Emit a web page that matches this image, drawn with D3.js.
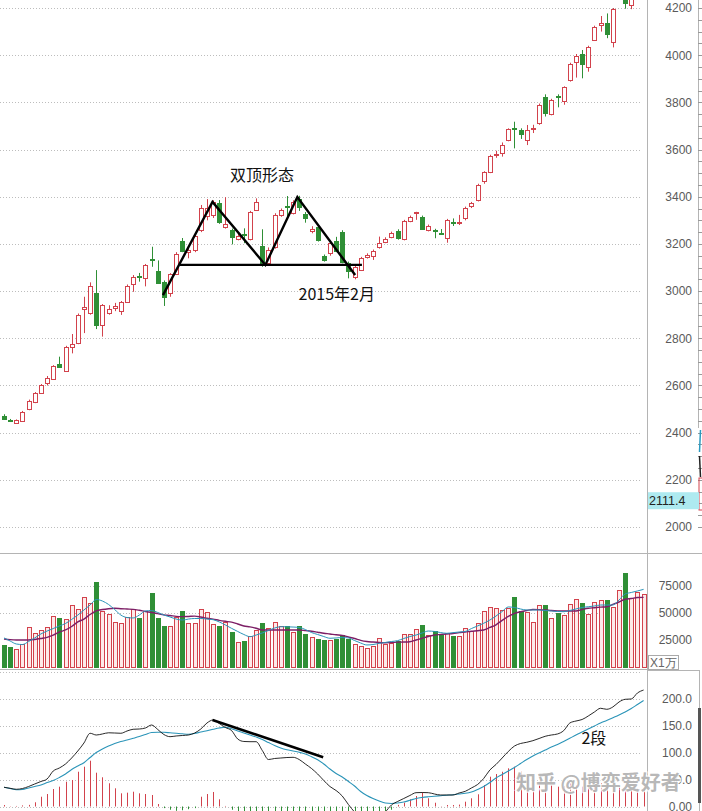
<!DOCTYPE html>
<html><head><meta charset="utf-8">
<script src="https://cdn.jsdelivr.net/npm/d3@7"></script>
<style>body{margin:0;background:#fff;overflow:hidden}svg{display:block}</style>
</head><body>
<svg id="c" width="702" height="811"></svg>
<script>
// ---------------- data ----------------
const opens = [2472,2453,2441,2449,2500,2530,2569,2610,2627,2691,
2662,2764,2780,2925,2907,2993,2856,2908,2928,2917,
2954,3030,3066,3055,3134,3085,3039,2992,3072,3214,
3166,3174,3259,3318,3323,3375,3273,3259,3222,3240,
3222,3344,3191,3119,3188,3323,3360,3331,3390,3327,
3256,3273,3149,3161,3214,3250,3118,3061,3089,3143,
3149,3187,3208,3229,3256,3221,3297,3328,3316,3259,
3261,3247,3224,3292,3287,3309,3358,3386,3464,3506,
3575,3587,3640,3692,3683,3640,3686,3711,3821,3751,
3826,3803,3895,3972,4004,3949,4067,4128,4135,4053,
4260,4300,4213,4300,4410];
const highs = [2478,2458,2456,2492,2540,2572,2606,2640,2686,2722,
2768,2818,2905,2976,3037,3089,2945,2940,2950,2958,
3028,3068,3077,3115,3188,3130,3045,3076,3165,3225,
3188,3240,3365,3390,3385,3386,3398,3265,3245,3266,
3340,3393,3262,3185,3330,3350,3403,3385,3404,3335,
3275,3280,3155,3210,3230,3258,3125,3110,3145,3160,
3176,3231,3228,3252,3262,3302,3320,3336,3320,3282,
3264,3263,3306,3308,3323,3358,3378,3455,3508,3578,
3595,3630,3690,3718,3690,3704,3705,3795,3834,3815,
3834,3868,3968,4005,4022,4040,4125,4166,4177,4200,
4290,4310,4300,4400,4445];
const lows = [2455,2445,2438,2445,2495,2525,2565,2600,2624,2674,
2660,2736,2775,2822,2900,2839,2807,2900,2915,2899,
2950,2997,3040,3020,3103,3034,2937,2976,3068,3165,
3139,3165,3250,3300,3310,3285,3265,3198,3215,3203,
3215,3340,3103,3110,3180,3315,3315,3325,3340,3290,
3245,3210,3125,3150,3165,3118,3054,3050,3085,3138,
3132,3180,3203,3224,3218,3215,3292,3302,3260,3253,
3224,3238,3205,3276,3280,3300,3352,3380,3455,3500,
3565,3570,3635,3605,3645,3619,3670,3705,3740,3745,
3779,3790,3888,3905,3902,3930,4060,4100,4072,4033,
4240,4197,4195,4290,4360];
const closes = [2458,2450,2453,2487,2535,2568,2602,2632,2682,2678,
2763,2777,2899,2934,3022,2856,2941,2924,2937,2954,
3022,3060,3062,3111,3130,3036,2976,3072,3157,3171,
3174,3235,3352,3352,3378,3294,3284,3230,3234,3236,
3335,3379,3119,3174,3323,3344,3356,3379,3356,3310,
3264,3217,3132,3204,3171,3124,3082,3103,3140,3153,
3171,3204,3221,3246,3228,3297,3314,3334,3264,3277,
3257,3243,3301,3288,3292,3351,3372,3450,3503,3574,
3580,3619,3686,3688,3666,3683,3692,3789,3754,3810,
3822,3864,3963,3997,3961,4033,4121,4135,4089,4194,
4287,4220,4293,4398,4414];
const volumes = [20400,18800,16700,21000,36800,31200,34300,36800,47200,45400,
44200,57400,53400,64500,59500,79000,51900,49100,41900,41000,
46600,54000,45100,52100,68800,45100,38000,38000,46600,51900,
41000,41000,53400,51200,39800,38000,41900,32700,23400,24400,
28700,34300,41000,35800,41900,38000,38000,32700,38000,30600,
27500,25700,25000,25000,25700,29600,25700,21300,19400,17600,
19400,26600,21300,21900,24400,30300,30300,34900,38900,29400,
33300,29400,31200,28700,28700,35800,33300,40500,52300,55300,
54400,52800,54400,64800,51900,50900,41900,57400,57400,45100,
49700,48200,58300,62700,59500,49100,59900,62000,62000,55300,
71300,87300,64200,69400,67600];
const volMA5 = [26900,24100,21300,20800,23600,26900,30600,33300,35600,38000,
40300,44000,48100,52800,57400,62500,61100,57900,53200,48100,
45800,45400,48100,51900,52300,50500,48100,46300,44400,43500,
44400,44900,44900,44400,43800,41700,38900,35800,32900,30100,
28100,29600,31500,33800,36100,37300,37200,37000,36600,34700,
31900,30100,28200,26600,26900,27300,26900,24500,22200,20400,
20800,21900,22700,23600,24400,26400,28200,29600,31500,33300,
32900,31900,31200,31800,32400,32900,35600,38000,40500,43500,
47200,51400,55600,55100,53700,52800,52800,52800,52300,51900,
51400,51200,52300,53700,55100,55800,56500,57400,57400,57400,
62000,67600,69000,70400,71900];
const volMA10 = [25900,25300,25000,25000,25000,25500,26400,27500,29600,32400,
34300,37500,41700,44400,48600,51900,53200,54000,54400,54000,
53700,53400,52500,51400,50500,49400,48300,47700,46900,46600,
46800,47100,46300,45100,44300,43200,42300,41500,39800,38000,
37200,35900,34300,34300,34300,34300,34300,34300,34300,33700,
33100,32200,31300,30600,29800,29200,27800,26400,24700,23600,
23100,22700,22500,22700,23000,23100,23400,25000,26600,28200,
29600,30100,30600,31000,31800,32400,33100,33600,34300,36600,
39100,43100,46800,49700,51200,52300,53200,53100,52800,52300,
52000,51900,51900,51900,53200,54400,54900,55400,55800,57900,
60200,62700,63400,64300,64500];
const difs = [35.6,33.7,31.9,33.3,37,41.7,46.3,50.9,65.7,71.3,
78.7,89.8,102.8,117.6,135.6,132.4,134.3,136.5,136.1,135.6,
139.8,143,143.5,145.4,150.9,142.6,133.3,129.3,130.6,131.5,
132.4,136.1,143.5,154.6,160.2,153.7,146.3,140.7,125,120.4,
120,120,103.7,87,88.9,89.8,90.7,91.1,87,78.7,
70.4,60.2,48.1,37,29.6,19.4,3.7,-10.2,-21.3,-28.7,
-28.7,-21.3,-10.2,2.8,9.3,14.8,20.4,25.6,25.9,25.6,
23.1,21.3,21.3,21.3,25,28.1,34.3,40.7,51.9,67.6,
77.8,89.8,101.9,112,116.7,118.9,121.9,125.9,130,132.4,
134.3,140.4,154.6,158.3,161.1,167.6,175,181.9,180,184.3,
193.5,198.5,199.1,210.2,215.7];
const deas = [35.6,33.3,30.9,31.5,34.3,37,39.8,44.4,48.1,53.7,
60.2,68.5,75,81.1,90.7,100,106.5,112,116.7,120.4,
123.1,126.3,129.6,133.3,136.9,137.4,137.4,136.5,135.6,134.6,
133.9,135.2,138,140.4,143,145.4,146.7,143.9,139.8,136.1,
132.4,128.7,124.1,118.5,113,108.3,105,102.8,100.4,97.2,
92.2,86.7,78.7,69.4,61.1,54.6,46.3,37.9,27.8,20.4,
14.8,10.2,6.5,5.6,6.5,8.3,11.5,14.8,16.7,18,
19.1,20,20.9,21.7,23.1,24.4,26.9,31.5,37,44.4,
52.8,59.3,65.7,72.2,79.6,87,93.5,99.1,104.6,110.2,
114.8,120.4,126.3,132.4,138,143.5,149.1,154.6,159.3,164.3,
169.4,175,181.5,188.9,196.3];
const macdBars = [2.8,0.5,1,2,3,7.8,18.1,23.1,32.4,36.7,
45.9,49.1,64.4,73.7,84.8,62.6,54.1,43,33.7,24.4,
25.6,27.4,24.4,23.1,21.3,4.6,-3,-6,-8,-7,
-5,-3,18.1,23.1,26.9,13.3,1,-6,-30,-31,
-25,-17,-41,-63,-48,-37,-29,-23,-27,-37,
-44,-53,-61,-65,-63,-70,-90,-92,-96,-94,
-85,-62,-33,-6,3,7,13.3,19.4,25.6,15.2,
7,0.5,2.8,2.8,3.5,8.9,15.2,22.6,39.8,55.2,
60.2,64.4,70.7,73.7,64.4,56.5,49.1,45.9,43,39.8,
36.7,38,43,39.8,36.7,39.8,39.8,43,39.8,38,
38,29.6,30.9,33,33];

const priceTicks = [2000,2200,2400,2600,2800,3000,3200,3400,3600,3800,4000,4200];
const volTicks = [25000,50000,75000];
const volGrid = [50000,75000];
const macdTicks = [0,50,100,150,200];
const macdGrid = [0,50,100,150,200,250];
const currentPrice = "2111.4";
const volUnit = "X1万";
// annotations in data space: [barIndex, price]
const doubleTop = [[25.85,2983],[33.9,3378],[42.5,3111],[47.7,3399],[57.1,3068]];
const neckline = [[28.6,3111],[58.2,3111]];
const macdTrend = [[33.9,160.2],[51.9,91.1]];
const labels = [
  {text:"双顶形态", i:36.75, p:3467},
  {text:"2015年2月", i:47.9, p:2962},
];
const macdLabel = {text:"2段", i:93.9, v:115};
const watermark = "知乎 @博弈爱好者";

// ---------------- layout ----------------
const svg = d3.select("#c");
const W = 702, AX = 647.5;
const RED = "#d2424c", GREEN = "#2f8f36", GRID = "#bdbdbd", AXC = "#b4b4b4";
const n = closes.length;
const x = d3.scaleLinear().domain([0, n-1]).range([4, 643.6]);
const yP = d3.scaleLinear().domain([2000, 4200]).range([527, 8]);
const yV = d3.scaleLinear().domain([0, 75000]).range([667, 586]);
const yM = d3.scaleLinear().domain([0, 200]).range([806.5, 698.5]);

const defs = svg.append("defs");
function clip(id, x0, y0, w, h){ defs.append("clipPath").attr("id", id).append("rect").attr("x",x0).attr("y",y0).attr("width",w).attr("height",h); }
clip("cp", 0, 0, AX, 553);
clip("cv", 0, 554, AX, 114);
clip("cm", 0, 671, AX, 140);

const font = "'Liberation Sans', Arial, sans-serif";

// gridlines
function grid(vals, scale){
  svg.append("g").selectAll("line").data(vals).join("line")
    .attr("x1", 0).attr("x2", 641)
    .attr("y1", d => Math.round(scale(d)) + 0.5).attr("y2", d => Math.round(scale(d)) + 0.5)
    .attr("stroke", GRID).attr("stroke-width", 1).attr("stroke-dasharray", "1,2");
}
grid(priceTicks, yP);
grid(volGrid, yV);
grid(macdGrid, yM);

// panel frames
svg.append("line").attr("x1", AX).attr("x2", AX).attr("y1", 0).attr("y2", 811).attr("stroke", AXC);
svg.append("line").attr("x1", 0).attr("x2", W).attr("y1", 553.5).attr("y2", 553.5).attr("stroke", AXC);
svg.append("line").attr("x1", 0).attr("x2", AX).attr("y1", 669.5).attr("y2", 669.5).attr("stroke", AXC);
// right strip
svg.append("line").attr("x1", 698.5).attr("x2", 698.5).attr("y1", 0).attr("y2", 428).attr("stroke", AXC);
const minor = d3.range(2000, 4251, 50);
svg.append("g").selectAll("line").data(minor).join("line")
  .attr("x1", 698).attr("x2", 702)
  .attr("y1", d => Math.round(yP(d)) + 0.5).attr("y2", d => Math.round(yP(d)) + 0.5)
  .attr("stroke", "#999");
// clipped neighbouring chart fragment at the right edge
svg.append("line").attr("x1", 700.5).attr("x2", 699.5).attr("y1", 430).attr("y2", 452).attr("stroke", "#2a9ac0").attr("stroke-width", 1.5);
svg.append("line").attr("x1", 699.5).attr("x2", 700.5).attr("y1", 456).attr("y2", 477).attr("stroke", "#222").attr("stroke-width", 1.5);
svg.append("rect").attr("x", 699).attr("y", 478).attr("width", 4).attr("height", 32).attr("fill", "none").attr("stroke", RED);
// macd axis box
svg.append("rect").attr("x", AX).attr("y", 670.5).attr("width", 52).attr("height", 145).attr("fill", "none").attr("stroke", AXC);
svg.append("rect").attr("x", 698).attr("y", 708).attr("width", 3).attr("height", 95).attr("fill", "#555");

// axes labels
function axisLabels(vals, scale, fmt){
  const ax = d3.axisRight(scale).tickValues(vals).tickSize(0).tickFormat(fmt);
  const g = svg.append("g").attr("transform", `translate(${AX},0)`).call(ax);
  g.select(".domain").remove();
  g.selectAll("text").attr("x", 692 - AX).attr("text-anchor", "end")
    .attr("fill", "#5a5a5a").style("font-family", font).style("font-size", "12px");
}
axisLabels(priceTicks, yP, d3.format("d"));
axisLabels(volTicks, yV, d3.format("d"));
axisLabels(macdTicks, yM, d => d === 0 ? "0.00" : d3.format(".1f")(d));

// current price tag
const tagY = yP(2111.4);
svg.append("rect").attr("x", AX + 0.5).attr("y", tagY - 8.5).attr("width", 51).attr("height", 17).attr("fill", "#aeeaf0");
svg.append("text").attr("x", 649).attr("y", tagY + 4.5).text(currentPrice)
  .attr("fill", "#222").style("font-family", font).style("font-size", "12.5px");

// volume unit box
svg.append("rect").attr("x", 648.5).attr("y", 655.5).attr("width", 30).attr("height", 14).attr("fill", "#fff").attr("stroke", "#aaa");
svg.append("text").attr("x", 650).attr("y", 667).text(volUnit)
  .attr("fill", "#666").style("font-family", font).style("font-size", "12px");

// ---------------- candles ----------------
const data = closes.map((c, i) => ({i, o: opens[i], h: highs[i], l: lows[i], c, v: volumes[i], up: c >= opens[i]}));
const gp = svg.append("g").attr("clip-path", "url(#cp)");
const cx = d => Math.round(x(d.i)) + 0.5;
gp.selectAll("line.w").data(data).join("line").attr("class", "w")
  .attr("x1", cx).attr("x2", cx).attr("y1", d => yP(d.h)).attr("y2", d => yP(d.l))
  .attr("stroke", d => d.up ? RED : GREEN);
gp.selectAll("rect.b").data(data).join("rect").attr("class", "b")
  .attr("x", d => cx(d) - 2).attr("width", 4)
  .attr("y", d => Math.round(yP(Math.max(d.o, d.c))) + 0.5)
  .attr("height", d => Math.max(0.01, Math.round(Math.abs(yP(d.o) - yP(d.c)))))
  .attr("fill", d => d.up ? "#fff" : GREEN)
  .attr("stroke", d => d.up ? RED : GREEN);

// ---------------- volume ----------------
const gv = svg.append("g").attr("clip-path", "url(#cv)");
gv.selectAll("rect").data(data).join("rect")
  .attr("x", d => cx(d) - 2).attr("width", 4)
  .attr("y", d => Math.round(yV(d.v)) + 0.5)
  .attr("height", d => yV(0) - Math.round(yV(d.v)))
  .attr("fill", d => d.up ? "#fdeaea" : GREEN)
  .attr("stroke", d => d.up ? RED : GREEN);
const lineV = arr => d3.line().x((d, i) => x(i)).y(d => yV(d)).curve(d3.curveMonotoneX)(arr);
gv.append("path").attr("d", lineV(volMA10)).attr("fill", "none").attr("stroke", "#7d1f66").attr("stroke-width", 1.4);
gv.append("path").attr("d", lineV(volMA5)).attr("fill", "none").attr("stroke", "#2a94b8").attr("stroke-width", 1);

// ---------------- MACD ----------------
const gm = svg.append("g").attr("clip-path", "url(#cm)");
gm.selectAll("line").data(macdBars).join("line")
  .attr("x1", (d, i) => Math.round(x(i)) + 0.5).attr("x2", (d, i) => Math.round(x(i)) + 0.5)
  .attr("y1", yM(0)).attr("y2", d => yM(d))
  .attr("stroke", d => d >= 0 ? RED : GREEN);
const lineM = arr => d3.line().x((d, i) => x(i)).y(d => yM(d)).curve(d3.curveMonotoneX)(arr);
gm.append("path").attr("d", lineM(deas)).attr("fill", "none").attr("stroke", "#2a94b8").attr("stroke-width", 1.1);
gm.append("path").attr("d", lineM(difs)).attr("fill", "none").attr("stroke", "#111").attr("stroke-width", 0.9);

// ---------------- annotations ----------------
const annLine = d3.line().x(d => x(d[0])).y(d => yP(d[1]));
svg.append("path").attr("d", annLine(doubleTop)).attr("fill", "none").attr("stroke", "#000").attr("stroke-width", 2.4);
svg.append("path").attr("d", annLine(neckline)).attr("fill", "none").attr("stroke", "#000").attr("stroke-width", 2.4);
svg.append("path").attr("d", d3.line().x(d => x(d[0])).y(d => yM(d[1]))(macdTrend))
  .attr("fill", "none").attr("stroke", "#000").attr("stroke-width", 2.6);

const cjk = "'Noto Sans CJK SC', 'Liberation Sans', sans-serif";
svg.append("g").selectAll("text").data(labels).join("text")
  .attr("x", d => x(d.i)).attr("y", d => yP(d.p)).text(d => d.text)
  .attr("fill", "#111").style("font-family", cjk).style("font-size", "16px");
svg.append("text").attr("x", x(macdLabel.i)).attr("y", yM(macdLabel.v)).text(macdLabel.text)
  .attr("fill", "#111").style("font-family", cjk).style("font-size", "16px");

svg.append("text").attr("x", 516).attr("y", 790).text(watermark)
  .attr("fill", "rgba(165,165,165,0.8)").attr("stroke", "rgba(255,255,255,0.85)").attr("stroke-width", 2.5)
  .attr("paint-order", "stroke").style("font-family", cjk).style("font-size", "20px").style("font-weight", "bold");
</script>
</body></html>
